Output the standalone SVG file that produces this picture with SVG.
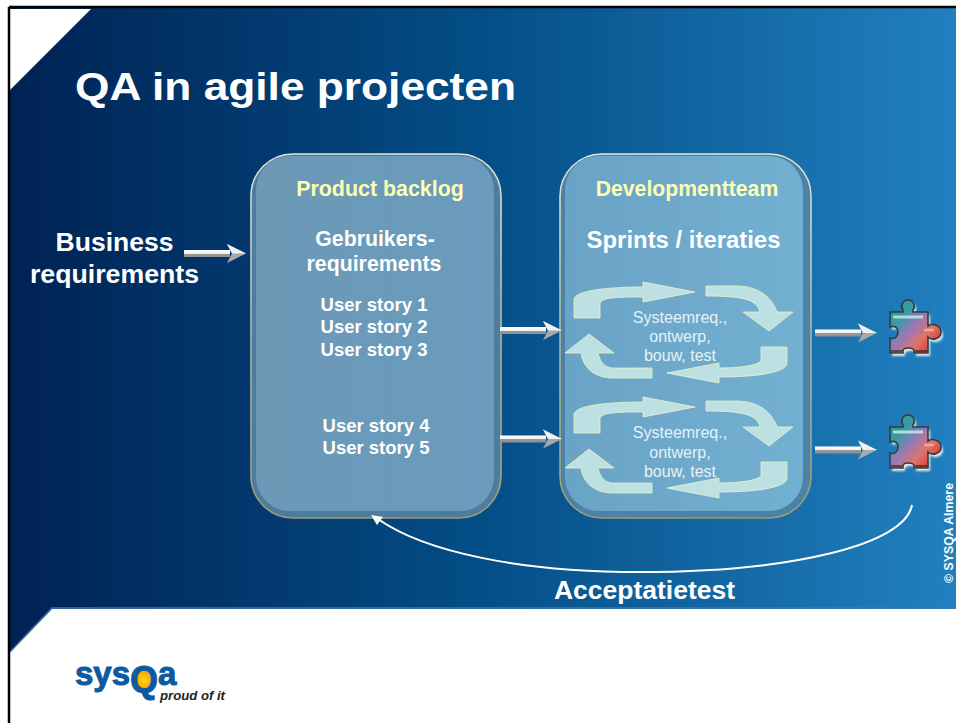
<svg xmlns="http://www.w3.org/2000/svg" width="956" height="723" viewBox="0 0 956 723">
<style>
.s{font-family:"Liberation Sans",Arial,sans-serif;font-weight:bold;fill:#fff;text-anchor:middle}
.y{fill:#ffffb4}
.c{font-family:"Liberation Sans",Arial,sans-serif;font-size:16px;fill:#e6f2f6;text-anchor:middle}
.a{fill:#bde0e2;stroke:#eef2c4;stroke-width:.8}
.l{font-family:"Liberation Sans",Arial,sans-serif;font-weight:bold;fill:#0e5aa0;stroke:#0e5aa0;stroke-width:1}
</style>
<defs>
<filter id="soft" x="-5%" y="-5%" width="110%" height="110%"><feGaussianBlur stdDeviation=".7"/></filter>
<filter id="halo" x="-20%" y="-20%" width="140%" height="140%"><feGaussianBlur stdDeviation="1.2"/></filter>
<linearGradient id="bg" x1="0" x2="1" y1="0" y2="0"><stop offset="0" stop-color="#002253"/><stop offset=".5" stop-color="#044e87"/><stop offset="1" stop-color="#2180bf"/></linearGradient>
<linearGradient id="p1" x1="0" x2="1" y1="0" y2="0"><stop offset="0" stop-color="#6d98b6"/><stop offset="1" stop-color="#6a9cbd"/></linearGradient>
<linearGradient id="p2" x1="0" x2="1" y1="0" y2="0"><stop offset="0" stop-color="#6aa3c6"/><stop offset="1" stop-color="#72b0d2"/></linearGradient>
<linearGradient id="edge" x1="0" x2="0" y1="0" y2="1"><stop offset="0" stop-color="#dfe8d8"/><stop offset=".5" stop-color="#a8b8a0"/><stop offset="1" stop-color="#a09a70"/></linearGradient>
<linearGradient id="shaft" x1="0" x2="0" y1="0" y2="1"><stop offset="0" stop-color="#fff"/><stop offset=".5" stop-color="#eee"/><stop offset=".55" stop-color="#999"/><stop offset="1" stop-color="#8f8f8f"/></linearGradient>
<linearGradient id="pz" x1="0" x2="1" y1="0" y2="1"><stop offset="0" stop-color="#0ea39a"/><stop offset=".3" stop-color="#3f9aa5"/><stop offset=".48" stop-color="#9a78b8"/><stop offset=".68" stop-color="#de7468"/><stop offset="1" stop-color="#d4141f"/></linearGradient>
<radialGradient id="sun"><stop offset="0" stop-color="#ffd800"/><stop offset="1" stop-color="#f0a010"/></radialGradient>
<g id="arr"><rect x="0" y="0" width="46" height="7" fill="url(#shaft)"/><path d="M43 -6L62 3.500L43 13L48 3.500Z" fill="#a8a8a8"/><path d="M43 -6L62 3.500L48 3.500Z" fill="#f0f0f0"/></g>
<g id="cyc">
<path class="a" d="M574 318V300C574 290 610 287 643 287V282L695 292L643 302V297C620 297 600 297 600 304V318Z"/>
<path class="a" d="M706 286H735C760 286 772 298 777 312H793L769 331L743 312H760C757 300 745 296 706 296Z"/>
<path class="a" d="M787 347H761V360C761 365 740 368 719 368V363L667 373L719 383V377C760 377 787 372 787 363Z"/>
<path class="a" d="M652 368H613C605 368 600 362 598 353H614L589 334L565 353H581C583 368 595 378 613 378H652Z"/>
</g>
<path id="pshape" d="M0 12H13V10C11 8 11 0 18 0C25 0 25 8 23 10V12H38V26C42 23 51 25 51 32C51 39 42 41 38 37V53H24V51C24 47 13 47 13 51V53H0V38C5 40 8 36 8 32C8 28 5 25 0 27Z"/>
<g id="puz">
<use href="#pshape" x="2" y="3" fill="#e8eef2" filter="url(#halo)"/>
<use href="#pshape" fill="url(#pz)" stroke="#3a3a3a" stroke-width="1.600"/>
<path d="M3 17H33" stroke="#d8f4f0" stroke-width="3" opacity=".75"/>
<path d="M34 30H44" stroke="#ffc8b8" stroke-width="2.500" opacity=".6"/>
<path d="M1 51H12M25 51H37" stroke="#222" stroke-width="2" opacity=".6"/>
</g>
</defs>
<rect width="956" height="723" fill="#fff"/>
<rect x="9" y="8" width="947" height="650" fill="url(#bg)"/>
<path d="M10 9H91L10 90Z" fill="#fff"/>
<path d="M52 609H956V723H10V652Z" fill="#fff"/>
<path d="M10 652L52 608H956" fill="none" stroke="#3f78a8" stroke-width="1.500"/>
<path d="M9 7H956M9 7V723" fill="none" stroke="#000" stroke-width="2.500"/>
<text x="75" y="100" font-family="Liberation Sans, Arial, sans-serif" font-size="38" font-weight="bold" fill="#fff" textLength="441" lengthAdjust="spacingAndGlyphs">QA in agile projecten</text>
<g id="business-requirements"><text class="s" font-size="26.500" x="114.500" y="251">Business</text><text class="s" font-size="26.700" x="114.500" y="283">requirements</text></g>
<g id="product-backlog">
<rect x="251" y="154" width="250" height="364" rx="42" fill="#4c7d9f" stroke="url(#edge)" stroke-width="1.600"/>
<rect x="256" y="156" width="238" height="355" rx="34" fill="url(#p1)" filter="url(#soft)"/>
<text class="s y" font-size="21.400" x="380" y="196">Product backlog</text>
<text class="s" font-size="21.300" x="375" y="246">Gebruikers-</text><text class="s" font-size="21.300" x="374" y="271">requirements</text>
<text class="s" font-size="18.500" x="374" y="311">User story 1</text><text class="s" font-size="18.500" x="374" y="333">User story 2</text><text class="s" font-size="18.500" x="374" y="356">User story 3</text>
<text class="s" font-size="18.500" x="376" y="432">User story 4</text><text class="s" font-size="18.500" x="376" y="454">User story 5</text>
</g>
<g id="developmentteam">
<rect x="560" y="154" width="251" height="364" rx="42" fill="#4a82a8" stroke="url(#edge)" stroke-width="1.600"/>
<rect x="565" y="156" width="238" height="355" rx="34" fill="url(#p2)" filter="url(#soft)"/>
<text class="s y" font-size="21.200" x="687" y="196">Developmentteam</text>
<text class="s" font-size="23.900" x="683.500" y="248">Sprints / iteraties</text>
<use href="#cyc"/><use href="#cyc" y="115"/>
<text class="c" x="680" y="323">Systeemreq.,</text><text class="c" x="680" y="342">ontwerp,</text><text class="c" x="680" y="361">bouw, test</text>
<text class="c" x="680" y="438">Systeemreq.,</text><text class="c" x="680" y="458">ontwerp,</text><text class="c" x="680" y="477">bouw, test</text>
</g>
<g id="puzzle-1"><use href="#puz" x="890" y="300"/></g>
<g id="puzzle-2"><use href="#puz" x="890" y="415"/></g>
<g id="connectors">
<use href="#arr" x="184" y="250"/>
<use href="#arr" x="500" y="327"/>
<use href="#arr" x="500" y="435.500"/>
<use href="#arr" x="815" y="329.500"/>
<use href="#arr" x="815" y="446.500"/>
<path d="M912 505C905 545 790 572 640 572C520 572 425 552 378 519" fill="none" stroke="#fff" stroke-width="2"/>
<path d="M371 515L383 517L377 525Z" fill="#fff"/>
</g>
<g id="acceptatietest"><text class="s" font-size="26.500" x="644.500" y="599">Acceptatietest</text></g>
<text transform="translate(953 583) rotate(-90)" font-family="Liberation Sans, Arial, sans-serif" font-size="12" font-weight="bold" fill="#fff" textLength="100" lengthAdjust="spacingAndGlyphs">© SYSQA Almere</text>
<g id="logo">
<circle cx="144" cy="680" r="10" fill="url(#sun)"/>
<text class="l" font-size="33" y="685"><tspan x="75">sys</tspan><tspan x="130" y="692" font-size="36">Q</tspan><tspan x="158" y="685">a</tspan></text>
<text x="160" y="700" font-family="Liberation Sans, Arial, sans-serif" font-size="13" font-weight="bold" font-style="italic" fill="#222" textLength="65" lengthAdjust="spacingAndGlyphs">proud of it</text>
</g>
</svg>
